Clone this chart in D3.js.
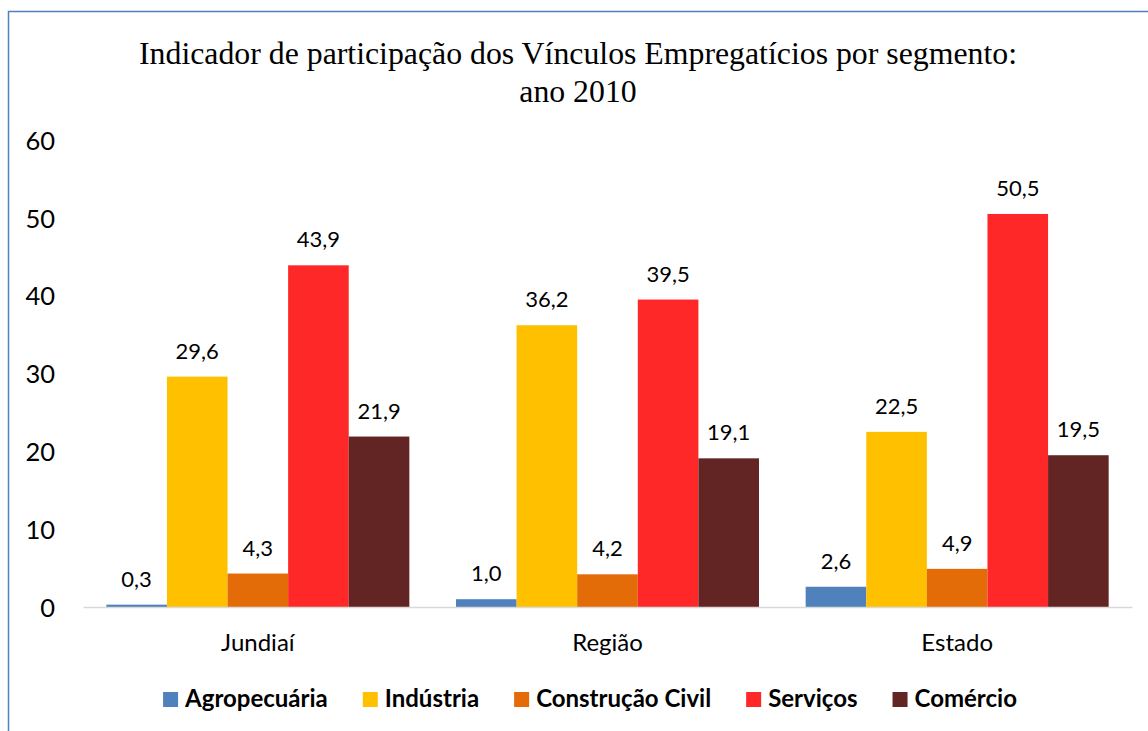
<!DOCTYPE html>
<html>
<head>
<meta charset="utf-8">
<script src="https://cdn.jsdelivr.net/npm/d3@7"></script>
<style>
  body { margin: 0; background: #fff; }
  svg { display: block; }
</style>
</head>
<body>
<svg id="chart" width="1148" height="731"></svg>
<script>
// data
const categories = ['Jundiaí', 'Região', 'Estado']
const series = ['Agropecuária', 'Indústria', 'Construção Civil', 'Serviços', 'Comércio']
const agropecuaria = [0.3, 1.0, 2.6]
const industria = [29.6, 36.2, 22.5]
const construcao = [4.3, 4.2, 4.9]
const servicos = [43.9, 39.5, 50.5]
const comercio = [21.9, 19.1, 19.5]
const yTicks = [0, 10, 20, 30, 40, 50, 60]
const titleLines = ['Indicador de participação dos Vínculos Empregatícios por segmento:', 'ano 2010']

const colors = ['#4F81BD', '#FFC000', '#E36C09', '#FF2828', '#632523']
const values = [agropecuaria, industria, construcao, servicos, comercio]

const svg = d3.select('#chart')
const width = +svg.attr('width')
const height = +svg.attr('height')

const sansFont = 'Lato, "Open Sans", sans-serif'

// outer frame (only left and top edges visible)
svg.append('path')
  .attr('d', `M8.5,${height + 2} L8.5,11.5 L${width + 2},11.5`)
  .attr('fill', 'none')
  .attr('stroke', '#4F81BD')
  .attr('stroke-width', 1.5)

// title
svg.append('g')
  .selectAll('text')
  .data(titleLines)
  .enter()
  .append('text')
  .attr('x', 578)
  .attr('y', (d, i) => 64 + i * 38)
  .attr('text-anchor', 'middle')
  .style('font-family', '"Liberation Serif", "Times New Roman", serif')
  .style('font-size', '31.8px')
  .style('fill', '#000')
  .text(d => d)

// scales
const xScale = d3.scaleBand()
  .domain(categories)
  .range([83, 1132])
  .padding(0)

const xInner = d3.scaleBand()
  .domain(series)
  .range([0, xScale.bandwidth()])
  .paddingInner(0)
  .paddingOuter(0.385)

const yScale = d3.scaleLinear()
  .domain([0, 60])
  .range([607, 140])

// y axis labels
const yAxis = d3.axisLeft(yScale)
  .tickValues(yTicks)
  .tickSize(0)
  .tickPadding(0)
  .tickFormat(d3.format('d'))

const yAxisGroup = svg.append('g')
  .attr('transform', 'translate(55, 0)')
  .call(yAxis)

yAxisGroup.select('path.domain').remove()
yAxisGroup.selectAll('.tick text')
  .style('font-family', sansFont)
  .style('font-size', '25.5px')
  .style('fill', '#000')
  .attr('dy', '0.36em')

// bars
const rows = []
series.forEach((s, si) => {
  categories.forEach((c, ci) => {
    rows.push({ serie: s, cat: c, value: values[si][ci], color: colors[si] })
  })
})

svg.append('g')
  .selectAll('rect')
  .data(rows)
  .enter()
  .append('rect')
  .attr('x', d => xScale(d.cat) + xInner(d.serie))
  .attr('y', d => yScale(d.value))
  .attr('width', xInner.bandwidth())
  .attr('height', d => yScale(0) - yScale(d.value))
  .attr('fill', d => d.color)

// data labels
svg.append('g')
  .selectAll('text')
  .data(rows)
  .enter()
  .append('text')
  .attr('x', d => xScale(d.cat) + xInner(d.serie) + xInner.bandwidth() / 2)
  .attr('y', d => yScale(d.value) - 18)
  .attr('text-anchor', 'middle')
  .style('font-family', sansFont)
  .style('font-size', '22px')
  .style('fill', '#000')
  .text(d => d3.format('.1f')(d.value).replace('.', ','))

// x axis line and category labels
const xAxis = d3.axisBottom(xScale)
  .tickSize(0)
  .tickPadding(0)

const xAxisGroup = svg.append('g')
  .attr('transform', `translate(0, ${yScale(0)})`)
  .call(xAxis)

xAxisGroup.select('path.domain')
  .attr('stroke', '#D9D9D9')
  .attr('stroke-width', 1.5)

xAxisGroup.selectAll('.tick text')
  .attr('dy', null)
  .attr('y', 44)
  .style('font-family', sansFont)
  .style('font-size', '24px')
  .style('fill', '#000')

// legend
const legend = svg.append('g')
const legendItems = legend.selectAll('g')
  .data(series)
  .enter()
  .append('g')

legendItems.append('rect')
  .attr('width', 15)
  .attr('height', 15)
  .attr('y', 692)
  .attr('fill', (d, i) => colors[i])

legendItems.append('text')
  .attr('x', 22)
  .attr('y', 707)
  .style('font-family', sansFont)
  .style('font-size', '24px')
  .style('font-weight', 'bold')
  .style('fill', '#000')
  .text(d => d)

// lay legend items out side by side, centred
let offsets = []
let cursor = 0
legendItems.each(function () {
  const w = d3.select(this).select('text').node().getComputedTextLength()
  offsets.push(cursor)
  cursor += 22 + w + 35
})
const totalWidth = cursor - 35
const legendStart = 590 - totalWidth / 2
legendItems.attr('transform', (d, i) => `translate(${legendStart + offsets[i]}, 0)`)
</script>
</body>
</html>
